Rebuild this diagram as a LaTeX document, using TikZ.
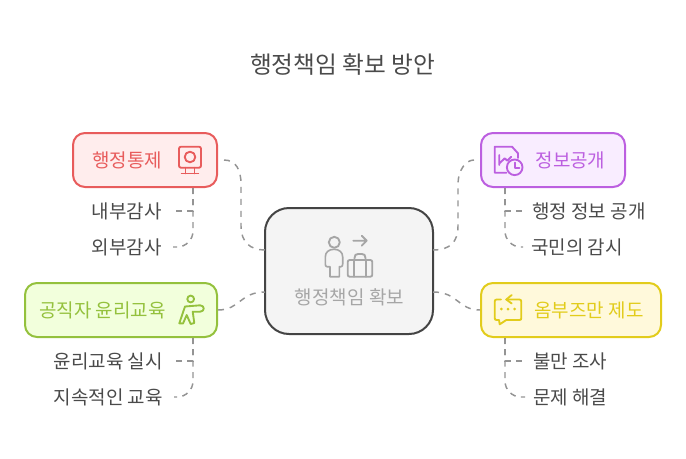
\documentclass[tikz,border=0pt]{standalone}
\usepackage{fontspec}
\setmainfont{Noto Sans CJK KR}
\usetikzlibrary{calc}
\definecolor{redline}{HTML}{E85C5C}
\definecolor{redfill}{HTML}{FFEDED}
\definecolor{purpleline}{HTML}{BC5FE0}
\definecolor{purplefill}{HTML}{F9EDFF}
\definecolor{greenline}{HTML}{94C13D}
\definecolor{greenfill}{HTML}{F2FFDC}
\definecolor{yellowline}{HTML}{E2CC1B}
\definecolor{yellowfill}{HTML}{FFF9DB}
\definecolor{hubline}{HTML}{444444}
\definecolor{hubfill}{HTML}{F4F4F4}
\definecolor{hubtext}{HTML}{A6A6A6}
\definecolor{linkgray}{HTML}{949494}
\definecolor{inktext}{HTML}{4A4A4A}
\tikzset{
  topicbox/.style={draw=#1line,fill=#1fill,line width=1.5pt,rounded corners=9pt,minimum height=40.5pt,inner sep=0pt},
  topictext/.style={text=#1line,font=\fontsize{14.25pt}{17pt}\selectfont,inner sep=0pt},
  leaftext/.style={text=inktext,font=\fontsize{14.25pt}{17pt}\selectfont,inner sep=0pt},
  icon/.style={draw=#1,line width=1.4pt,line cap=round,line join=round},
  link/.style={draw=linkgray,line width=1.1pt,dash pattern=on 4.5pt off 4.5pt},
  leaflink/.style={draw=linkgray,line width=1.1pt,dash pattern=on 4.5pt off 4pt},
}
\begin{document}
\begin{tikzpicture}[x=0.75pt,y=-0.75pt]
\useasboundingbox (0,0) rectangle (686,458);
\node[text=inktext,font=\fontsize{17.75pt}{22pt}\selectfont,inner sep=0pt] (heading) at (342.5,65) {행정책임 확보 방안};
% hub
\node[draw=hubline,fill=hubfill,line width=1.5pt,rounded corners=18pt,minimum width=126pt,minimum height=94.5pt] (hub) at (349,271) {};
\node[text=hubtext,font=\fontsize{14.25pt}{17pt}\selectfont,inner sep=0pt] (hubcaption) at (349.5,297) {행정책임 확보};
% topics
\node[topicbox=red,minimum width=108pt] (control) at (145,160) {};
\node[topictext=red] (controltext) at (127,160) {행정통제};
\node[topicbox=purple,minimum width=108pt] (open) at (553,160) {};
\node[topictext=purple] (opentext) at (570.5,160) {정보공개};
\node[topicbox=green,minimum width=144pt] (ethics) at (121,310) {};
\node[topictext=green] (ethicstext) at (102.5,310) {공직자 윤리교육};
\node[topicbox=yellow,minimum width=135pt] (ombud) at (571,310) {};
\node[topictext=yellow] (ombudtext) at (589,310) {옴부즈만 제도};
% leaves
\node[leaftext,anchor=east] (inner) at (162,211) {내부감사};
\node[leaftext,anchor=east] (outer) at (162,247) {외부감사};
\node[leaftext,anchor=east] (train) at (163,361) {윤리교육 실시};
\node[leaftext,anchor=east] (lasting) at (163,397) {지속적인 교육};
\node[leaftext,anchor=west] (publish) at (532,211) {행정 정보 공개};
\node[leaftext,anchor=west] (watch) at (531,247) {국민의 감시};
\node[leaftext,anchor=west] (survey) at (533,361) {불만 조사};
\node[leaftext,anchor=west] (solve) at (533,397) {문제 해결};
% links to the hub
\coordinate (hubnw) at (265,250);
\coordinate (hubsw) at (265,292);
\coordinate (hubne) at (433,250);
\coordinate (hubse) at (433,292);
\draw[link] ($(control.east)+(6,0)$) .. controls (236,160) and (241,170) .. (241,184) -- (241,226) .. controls (241,242) and (250,250) .. (hubnw);
\draw[link] ($(open.west)+(-6,0)$) .. controls (466,160) and (458,170) .. (458,184) -- (458,226) .. controls (458,242) and (450,250) .. (hubne);
\draw[link] (ethics.east) .. controls (240,310) and (240,292) .. (hubsw);
\draw[link] (hubse) .. controls (458,292) and (458,310) .. (ombud.west);
% links to the leaves
\foreach \boxname/\lx/\first/\second in {control/193/inner/outer,ethics/193/train/lasting}{
  \draw[leaflink] (\lx,0 |- \boxname.south) -- (\lx,0 |- \first.east) -- ($(\first.east)+(13,0)$);
  \draw[leaflink,rounded corners=12pt] (\lx,0 |- \boxname.south) |- ($(\second.east)+(11,0)$);
}
\foreach \boxname/\lx/\first/\second in {open/505/publish/watch,ombud/505/survey/solve}{
  \draw[leaflink] (\lx,0 |- \boxname.south) -- (\lx,0 |- \first.west) -- ($(\first.west)+(-9,0)$);
  \draw[leaflink,rounded corners=12pt] (\lx,0 |- \boxname.south) |- ($(\second.west)+(-8,0)$);
}
% hub icon
\draw[icon=hubtext] (334.3,242.3) circle (5.5);
\draw[icon=hubtext,line width=1.2pt] (330,276.7) -- (330,266.7) -- (327,266.7) .. controls (325.8,266.7) and (325.3,265.5) .. (325.3,264) -- (325.3,257) .. controls (325.3,252) and (329,249.3) .. (334,249.3) .. controls (339,249.3) and (342.7,252) .. (342.7,257) -- (342.7,264) .. controls (342.7,265.5) and (342.2,266.7) .. (341,266.7) -- (339.3,266.7) -- (339.3,276.7) -- cycle;
\draw[icon=hubtext] (353.3,240.7) -- (366.7,240.7) (361.7,235.7) -- (366.7,240.7) -- (361.7,245.7);
\draw[icon=hubtext,rounded corners=1.5pt] (347.7,260) rectangle (372.3,276.7);
\draw[icon=hubtext] (353.8,276.7) -- (353.8,260) (366,276.7) -- (366,260);
\draw[icon=hubtext] (354.5,260) -- (354.5,258) .. controls (354.5,255) and (356,254) .. (358,254) -- (362,254) .. controls (364,254) and (365.5,255) .. (365.5,258) -- (365.5,260);
% control icon
\draw[icon=redline,rounded corners=1.5pt] (179,146.7) rectangle (201,167.7);
\draw[icon=redline] (190,157) circle (5.3);
\draw[icon=redline] (185.5,167.7) -- (185.5,173.5) (194.5,167.7) -- (194.5,173.5) (181.7,173.5) -- (198.3,173.5);
% ethics icon
\draw[icon=greenline] (190.7,299) circle (3.4);
\draw[icon=greenline] (185,306.5) -- (200,305.3) .. controls (205,305.3) and (205,311.7) .. (200,311.7) -- (192.7,311.7) -- (194.3,323) -- (190.7,324) -- (186.7,315) -- (183,323.5) -- (179.3,323.3) -- cycle;
% open icon
\draw[icon=purpleline] (506.5,172.7) -- (494.7,172.7) -- (494.7,146.7) -- (512,146.7) -- (518,153.3) -- (518,158);
\draw[icon=purpleline] (514.7,167.3) circle (7.8);
\draw[icon=purpleline] (514.7,162.5) -- (514.7,168) -- (519.5,168);
\draw[icon=purpleline] (499.3,155) -- (499.3,165) (499.3,163.5) -- (504.7,158.3) -- (507.3,160.7) -- (511.3,156.7);
% ombud icon
\draw[icon=yellowline] (501,299.5) -- (496.7,299.5) .. controls (495.3,299.5) and (494.7,300.2) .. (494.7,301.5) -- (494.7,318) .. controls (494.7,319.5) and (495.3,320) .. (496.7,320) -- (499,320) -- (499.7,324.3) -- (506.3,320) -- (519.3,320) .. controls (520.7,320) and (521.3,319.5) .. (521.3,318) -- (521.3,301.5) .. controls (521.3,300.2) and (520.7,299.5) .. (519.3,299.5) -- (506.3,299.5);
\draw[icon=yellowline] (511.7,295) -- (506.3,299.5) -- (511.7,303.5);
\foreach \dotx in {501.3,508,514.7}{\fill[yellowline] (\dotx,309) circle (1.5);}
\end{tikzpicture}
\end{document}
